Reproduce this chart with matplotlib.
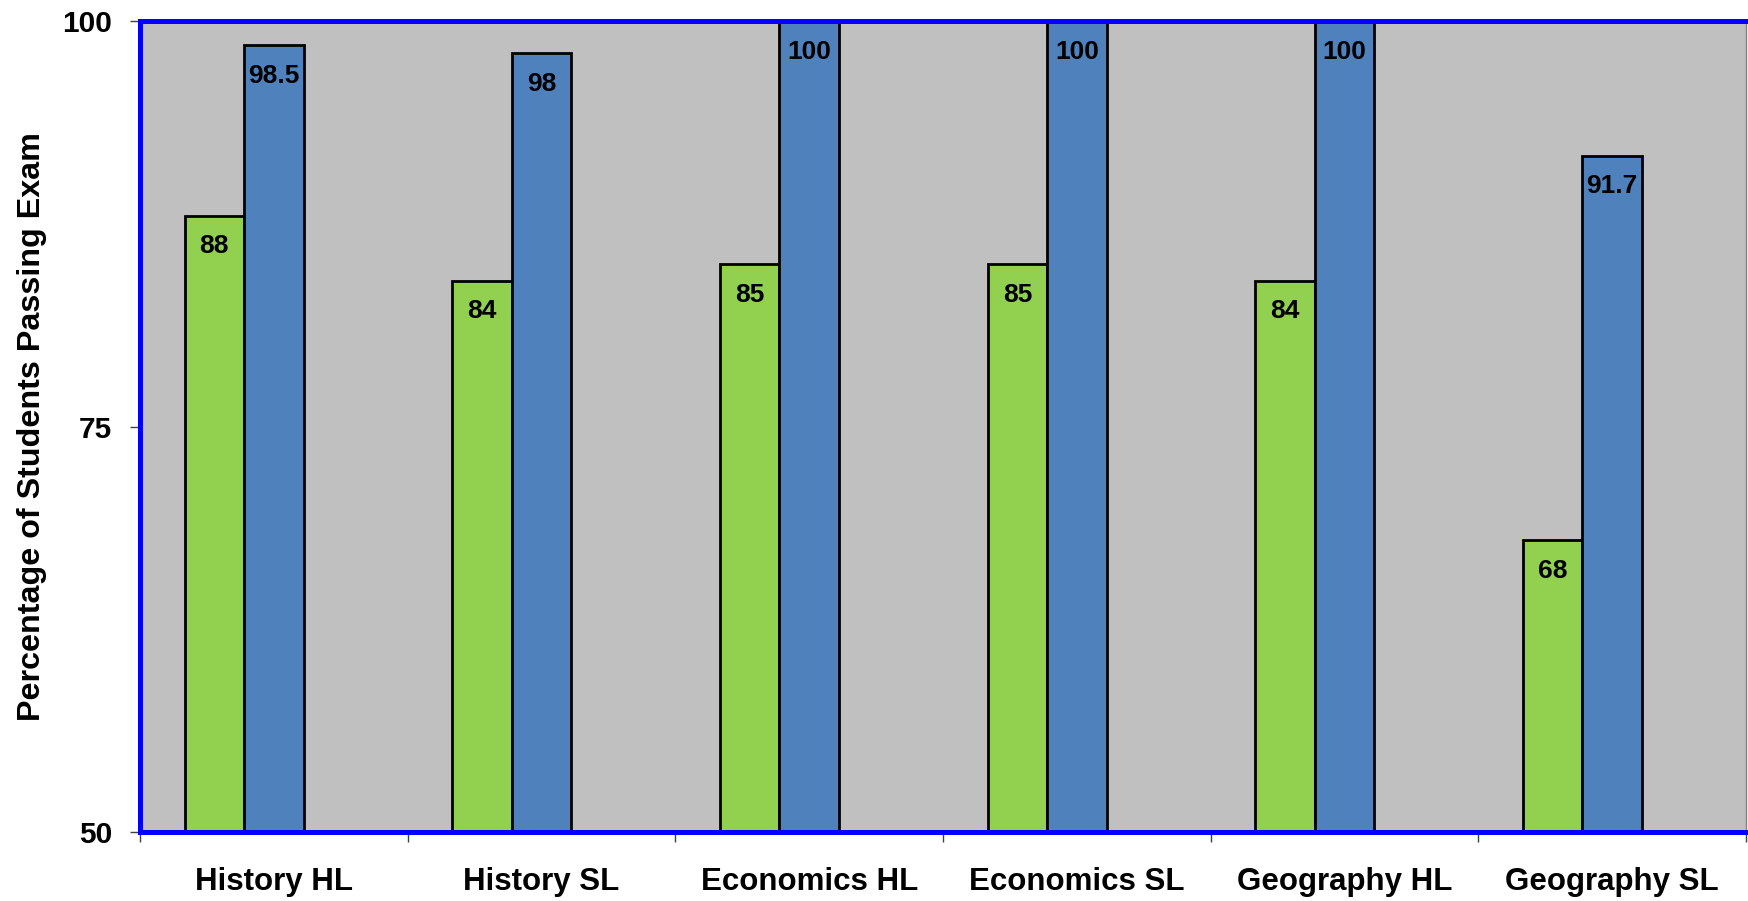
import matplotlib
matplotlib.use("Agg")
import matplotlib.pyplot as plt
import numpy as np

categories = ["History HL", "History SL", "Economics HL", "Economics SL", "Geography HL", "Geography SL"]
series_green = [88, 84, 85, 85, 84, 68]
series_blue = [98.5, 98, 100, 100, 100, 91.7]
labels_green = ["88", "84", "85", "85", "84", "68"]
labels_blue = ["98.5", "98", "100", "100", "100", "91.7"]
yticks = [50, 75, 100]

plt.rcParams['font.family'] = ['Liberation Sans', 'DejaVu Sans']
plt.rcParams['font.weight'] = 'bold'

fig = plt.figure(figsize=(17.48, 9.01), dpi=100)
ax = fig.add_axes([140/1748, 1-832/901, (1746-140)/1748, (832-21)/901])
ax.set_facecolor('#C0C0C0')

x = np.arange(len(categories))
w = 1/4.5
ax.bar(x - w, [v - 50 for v in series_green], width=w, bottom=50,
       color='#92D050', edgecolor='black', linewidth=2, zorder=2)
ax.bar(x, [v - 50 for v in series_blue], width=w, bottom=50,
       color='#4F81BD', edgecolor='black', linewidth=2, zorder=2)

for xi, v, t in zip(x - w, series_green, labels_green):
    ax.annotate(t, (xi, v), xytext=(0, -13.5), textcoords='offset points',
                ha='center', va='top', fontsize=19, fontweight='bold', color='black', zorder=3)
for xi, v, t in zip(x, series_blue, labels_blue):
    ax.annotate(t, (xi, v), xytext=(0, -13.5), textcoords='offset points',
                ha='center', va='top', fontsize=19, fontweight='bold', color='black', zorder=3)

ax.set_xlim(-0.5, len(categories) - 0.5)
ax.set_ylim(50, 100)
ax.set_yticks(yticks)
ax.set_yticklabels([str(t) for t in yticks], fontsize=21.5, fontweight='bold')
ax.tick_params(axis='y', length=7, width=1, color='#404040', pad=13)

ax.set_xticks(np.arange(len(categories) + 1) - 0.5)
ax.set_xticklabels([])
ax.set_xticks(x, minor=True)
ax.set_xticklabels(categories, minor=True, fontsize=22.5, fontweight='bold')
ax.tick_params(axis='x', which='major', length=7.5, width=1, color='#404040')
ax.tick_params(axis='x', which='minor', length=0, pad=25)

ax.set_ylabel("Percentage of Students Passing Exam", fontsize=23.2, fontweight='bold', labelpad=11)

for side in ['left', 'top', 'bottom']:
    ax.spines[side].set_color('#0000FF')
    ax.spines[side].set_linewidth(3.6)
ax.spines['right'].set_color('#808080')
ax.spines['right'].set_linewidth(1)

fig.savefig("out.png", dpi=100)
